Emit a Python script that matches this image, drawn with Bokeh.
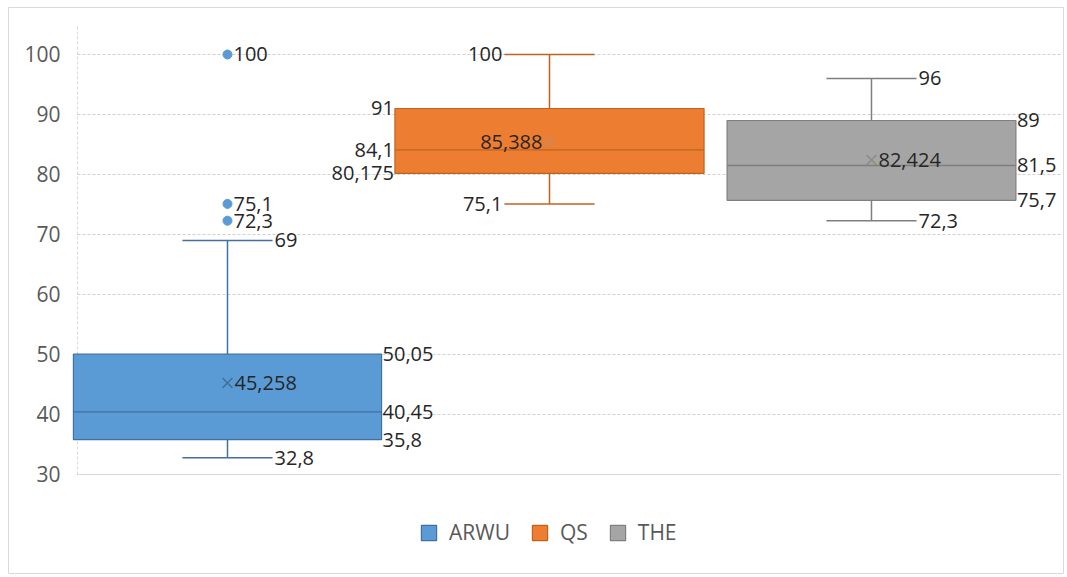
from bokeh.plotting import figure
from bokeh.models import Range1d, ColumnDataSource, Legend, LegendItem
from bokeh.embed import file_html
from bokeh.resources import INLINE
from bokeh.core.properties import value

# ---- data ----
categories = ["ARWU", "QS", "THE"]
lower_whisker = [32.8, 75.1, 72.3]
q1 = [35.8, 80.175, 75.7]
median = [40.45, 84.1, 81.5]
q3 = [50.05, 91, 89]
upper_whisker = [69, 100, 96]
mean = [45.258, 85.388, 82.424]
outliers_arwu = [100, 75.1, 72.3]
y_ticks = [30, 40, 50, 60, 70, 80, 90, 100]
y_min, y_max = 30, 105

# ---- styles ----
fills = ["#5B9BD5", "#ED7D31", "#A5A5A5"]
edges = ["#41719C", "#C0631F", "#7F7F7F"]
mean_colors = ["#41719C", "#C98A5C", "#8C8C8C"]
box_w = [0.957, 0.96, 0.897]
cap_w = 0.28
FONT = "Open Sans"
X_LEFT, X_RIGHT = -0.4658, 2.587   # plot-area extent in category units

def fmt(v):
    return f"{v:g}".replace(".", ",")

p = figure(width=1067, height=577, output_backend="svg", toolbar_location=None,
           x_range=Range1d(-0.6801, 2.5963), y_range=Range1d(13.5, 107.833),
           min_border_left=8, min_border_right=4, min_border_top=7, min_border_bottom=4)
p.outline_line_color = "#D9D9D9"
p.outline_line_width = 1
p.background_fill_color = "white"
p.border_fill_color = "white"
p.xaxis.visible = False
p.yaxis.visible = False
p.grid.visible = False

# gridlines and axis lines
p.segment(x0=[X_LEFT] * len(y_ticks), x1=[X_RIGHT] * len(y_ticks), y0=y_ticks, y1=y_ticks,
          line_color="#D0D0D0", line_dash="3 2", line_width=1)
p.segment(x0=[X_LEFT], x1=[X_RIGHT], y0=[y_min], y1=[y_min], line_color="#D9D9D9", line_width=1)
p.segment(x0=[X_LEFT], x1=[X_LEFT], y0=[y_min], y1=[y_max], line_color="#D9D9D9",
          line_dash="3 2", line_width=1)
p.text(x=[X_LEFT] * len(y_ticks), y=y_ticks, text=[str(t) for t in y_ticks],
       text_align="right", text_baseline="middle", x_offset=-17,
       text_font=value(FONT), text_font_size="21px", text_color="#595959")

xs = list(range(len(categories)))
renderers = []
for i, name in enumerate(categories):
    x = xs[i]
    w = box_w[i]
    p.segment(x0=[x, x], y0=[q3[i], q1[i]], x1=[x, x], y1=[upper_whisker[i], lower_whisker[i]],
              line_color=edges[i], line_width=1.5)
    p.segment(x0=[x - cap_w / 2] * 2, x1=[x + cap_w / 2] * 2,
              y0=[upper_whisker[i], lower_whisker[i]], y1=[upper_whisker[i], lower_whisker[i]],
              line_color=edges[i], line_width=1.5)
    r = p.vbar(x=[x], width=w, top=[q3[i]], bottom=[q1[i]], fill_color=fills[i],
               line_color=edges[i], line_width=1.2)
    renderers.append(r)
    p.segment(x0=[x - w / 2], x1=[x + w / 2], y0=[median[i]], y1=[median[i]],
              line_color=edges[i], line_width=1.3)
    p.scatter(x=[x], y=[mean[i]], marker="x", size=14, line_color=mean_colors[i], line_width=1.5)

p.scatter(x=[xs[0]] * len(outliers_arwu), y=outliers_arwu, marker="circle", size=9,
          fill_color=fills[0], line_color=fills[0])

# ---- data labels ----
lx, ly, lt, la, lo = [], [], [], [], []
def add(x, y, align, off):
    lx.append(x); ly.append(y); lt.append(fmt(y)); la.append(align); lo.append(off)

for v in outliers_arwu:
    add(xs[0], v, "left", 6)
side = [1, -1, 1]
for i in range(3):
    x = xs[i]; s = side[i]; w = box_w[i]
    al = "left" if s > 0 else "right"
    add(x + s * cap_w / 2, upper_whisker[i], al, 2 * s)
    add(x + s * cap_w / 2, lower_whisker[i], al, 2 * s)
    add(x + s * w / 2, q3[i], al, 1 * s)
    add(x + s * w / 2, median[i], al, 1 * s)
    add(x + s * w / 2, q1[i], al, 1 * s)
    add(x, mean[i], al, 7 * s)

src = ColumnDataSource(dict(x=lx, y=ly, text=lt, align=la, off=lo))
p.text(x="x", y="y", text="text", source=src, text_align="align", x_offset="off",
       text_baseline="middle", text_font=value(FONT), text_font_size="20px",
       text_color="#262626")

legend = Legend(items=[LegendItem(label=c, renderers=[renderers[i]]) for i, c in enumerate(categories)],
                orientation="horizontal", location=(411, 27),
                glyph_width=19, glyph_height=19, label_standoff=11, spacing=20,
                padding=0, margin=0, border_line_color=None, background_fill_alpha=0,
                label_text_font=FONT, label_text_font_size="21px", label_text_color="#595959",
                label_height=20)
p.add_layout(legend, "center")

open("out.html", "w").write(file_html(p, INLINE))
